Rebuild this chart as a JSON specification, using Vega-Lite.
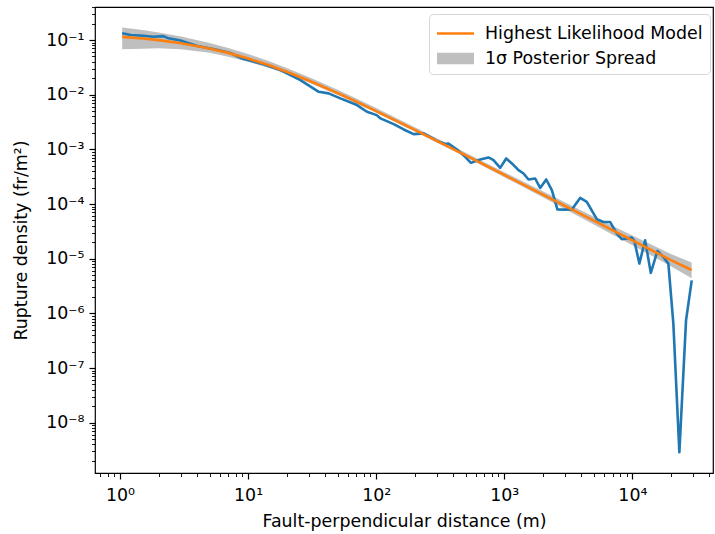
{
  "$schema": "https://vega.github.io/schema/vega-lite/v6.json",
  "width": 618,
  "height": 466,
  "autosize": {"type": "none"},
  "padding": {"left": 95, "right": 2, "top": 7, "bottom": 61},
  "background": "white",
  "config": {
    "view": {"stroke": "black", "strokeWidth": 1.2},
    "font": "DejaVu Sans"
  },
  "datasets": {
    "blue": [
      {"x": 1.04, "y": 0.1327}, {"x": 1.21, "y": 0.1235}, {"x": 1.52, "y": 0.12}, {"x": 1.82, "y": 0.1148},
      {"x": 2.18, "y": 0.118}, {"x": 2.39, "y": 0.1074}, {"x": 2.96, "y": 0.098}, {"x": 4.02, "y": 0.0777},
      {"x": 5.56, "y": 0.067}, {"x": 7.28, "y": 0.0578}, {"x": 9.0, "y": 0.046}, {"x": 12.5, "y": 0.0374},
      {"x": 17.9, "y": 0.0283}, {"x": 25.6, "y": 0.0185}, {"x": 35.6, "y": 0.0113}, {"x": 42.5, "y": 0.01056},
      {"x": 52.5, "y": 0.00855}, {"x": 70.8, "y": 0.00646}, {"x": 84.7, "y": 0.00487}, {"x": 101, "y": 0.00423},
      {"x": 108, "y": 0.00368}, {"x": 137, "y": 0.0029}, {"x": 164, "y": 0.00231}, {"x": 196, "y": 0.0019},
      {"x": 234, "y": 0.00195}, {"x": 256, "y": 0.00175}, {"x": 298, "y": 0.00143}, {"x": 346, "y": 0.00125},
      {"x": 367, "y": 0.00128}, {"x": 427, "y": 0.000995}, {"x": 495, "y": 0.00073}, {"x": 549, "y": 0.000566},
      {"x": 649, "y": 0.000653}, {"x": 753, "y": 0.000711}, {"x": 824, "y": 0.000634}, {"x": 929, "y": 0.000458},
      {"x": 1035, "y": 0.000681}, {"x": 1146, "y": 0.000552}, {"x": 1291, "y": 0.000416}, {"x": 1413, "y": 0.000362},
      {"x": 1545, "y": 0.000281}, {"x": 1742, "y": 0.000293}, {"x": 1906, "y": 0.000197}, {"x": 2125, "y": 0.000281},
      {"x": 2352, "y": 0.000179}, {"x": 2601, "y": 0.0000793}, {"x": 2897, "y": 0.000079}, {"x": 3368, "y": 0.0000793},
      {"x": 3910, "y": 0.000129}, {"x": 4408, "y": 0.000109}, {"x": 5277, "y": 0.0000527}, {"x": 5940, "y": 0.000047},
      {"x": 6700, "y": 0.000047}, {"x": 7556, "y": 0.0000288}, {"x": 8262, "y": 0.0000227}, {"x": 9890, "y": 0.0000243},
      {"x": 10370, "y": 0.0000211}, {"x": 11340, "y": 0.00000813}, {"x": 12570, "y": 0.0000217}, {"x": 13930, "y": 0.00000547},
      {"x": 15680, "y": 0.0000138}, {"x": 17460, "y": 0.0000107}, {"x": 19100, "y": 0.00000813}, {"x": 20890, "y": 0.000000647},
      {"x": 23270, "y": 0.00000000288}, {"x": 26240, "y": 0.000000745}, {"x": 29060, "y": 0.00000402}
    ],
    "model": [
      {"x": 1.04, "y": 0.1144, "lo": 0.0677, "hi": 0.170},
      {"x": 1.5, "y": 0.1068, "lo": 0.069, "hi": 0.1526},
      {"x": 2, "y": 0.0997, "lo": 0.0706, "hi": 0.1376},
      {"x": 3, "y": 0.0876, "lo": 0.068, "hi": 0.1155},
      {"x": 5, "y": 0.0702, "lo": 0.0584, "hi": 0.0884},
      {"x": 7, "y": 0.0582, "lo": 0.0495, "hi": 0.0716},
      {"x": 10, "y": 0.046, "lo": 0.0401, "hi": 0.0553},
      {"x": 15, "y": 0.0337, "lo": 0.03, "hi": 0.0401},
      {"x": 20, "y": 0.0263, "lo": 0.024, "hi": 0.0309},
      {"x": 30, "y": 0.018, "lo": 0.01653, "hi": 0.0209},
      {"x": 50, "y": 0.01069, "lo": 0.00987, "hi": 0.01227},
      {"x": 70, "y": 0.00745, "lo": 0.00692, "hi": 0.00849},
      {"x": 100, "y": 0.00501, "lo": 0.00467, "hi": 0.00569},
      {"x": 200, "y": 0.00227, "lo": 0.002118, "hi": 0.002547},
      {"x": 500, "y": 0.000774, "lo": 0.000722, "hi": 0.000868},
      {"x": 1000, "y": 0.00034, "lo": 0.00031, "hi": 0.000381},
      {"x": 2000, "y": 0.0001485, "lo": 0.0001323, "hi": 0.0001705},
      {"x": 5000, "y": 0.0000496, "lo": 0.0000422, "hi": 0.0000583},
      {"x": 10000, "y": 0.0000216, "lo": 0.00001756, "hi": 0.0000266},
      {"x": 20000, "y": 0.00000941, "lo": 0.0000073, "hi": 0.00001212},
      {"x": 29000, "y": 0.0000062, "lo": 0.0000044, "hi": 0.0000085}
    ]
  },
  "encoding": {
    "x": {
      "type": "quantitative",
      "scale": {"type": "log", "domain": [0.638, 42600], "nice": false},
      "axis": {
        "title": "Fault-perpendicular distance (m)",
        "values": [0.7, 0.8, 0.9, 1, 2, 3, 4, 5, 6, 7, 8, 9, 10, 20, 30, 40, 50, 60, 70, 80, 90, 100, 200, 300, 400, 500, 600, 700, 800, 900, 1000, 2000, 3000, 4000, 5000, 6000, 7000, 8000, 9000, 10000, 20000, 30000, 40000],
        "labelExpr": "datum.value == 1 ? '10⁰' : datum.value == 10 ? '10¹' : datum.value == 100 ? '10²' : datum.value == 1000 ? '10³' : datum.value == 10000 ? '10⁴' : ''",
        "labelOverlap": false, "labelFlush": false, "labelBound": false,
        "domain": false, "grid": false,
        "tickColor": "black",
        "tickSize": {"condition": {"test": "abs(log(datum.value)/LN10 - round(log(datum.value)/LN10)) < 0.000001", "value": 6}, "value": 3.5},
        "tickWidth": {"condition": {"test": "abs(log(datum.value)/LN10 - round(log(datum.value)/LN10)) < 0.000001", "value": 1.2}, "value": 0.9},
        "labelFont": "DejaVu Sans", "labelFontSize": 17.4, "labelColor": "black", "labelPadding": 7,
        "titleFont": "DejaVu Sans", "titleFontSize": 17.4, "titleFontWeight": "normal", "titleColor": "black", "titlePadding": 9
      }
    }
  },
  "layer": [
    {
      "data": {"name": "model"},
      "mark": {"type": "area", "opacity": 1},
      "encoding": {
        "x": {"field": "x", "type": "quantitative"},
        "y": {"field": "lo", "type": "quantitative"},
        "y2": {"field": "hi"},
        "color": {"datum": "1σ Posterior Spread"}
      }
    },
    {
      "data": {"name": "blue"},
      "mark": {"type": "line", "color": "#1f77b4", "strokeWidth": 2.6, "strokeJoin": "round"},
      "encoding": {
        "x": {"field": "x", "type": "quantitative"},
        "y": {"field": "y", "type": "quantitative"}
      }
    },
    {
      "data": {"name": "model"},
      "mark": {"type": "line", "strokeWidth": 2.6},
      "encoding": {
        "x": {"field": "x", "type": "quantitative"},
        "y": {
          "field": "y", "type": "quantitative",
          "scale": {"type": "log", "domain": [1.2e-9, 0.402], "nice": false},
          "axis": {
            "title": "Rupture density (fr/m²)",
            "values": [2e-9, 3e-9, 4e-9, 5e-9, 6e-9, 7e-9, 8e-9, 9e-9, 1e-8, 2e-8, 3e-8, 4e-8, 5e-8, 6e-8, 7e-8, 8e-8, 9e-8, 1e-7, 2e-7, 3e-7, 4e-7, 5e-7, 6e-7, 7e-7, 8e-7, 9e-7, 0.000001, 0.000002, 0.000003, 0.000004, 0.000005, 0.000006, 0.000007, 0.000008, 0.000009, 0.00001, 0.00002, 0.00003, 0.00004, 0.00005, 0.00006, 0.00007, 0.00008, 0.00009, 0.0001, 0.0002, 0.0003, 0.0004, 0.0005, 0.0006, 0.0007, 0.0008, 0.0009, 0.001, 0.002, 0.003, 0.004, 0.005, 0.006, 0.007, 0.008, 0.009, 0.01, 0.02, 0.03, 0.04, 0.05, 0.06, 0.07, 0.08, 0.09, 0.1, 0.2, 0.3, 0.4],
            "labelExpr": "datum.value == 0.1 ? '10⁻¹' : datum.value == 0.01 ? '10⁻²' : datum.value == 0.001 ? '10⁻³' : datum.value == 0.0001 ? '10⁻⁴' : datum.value == 0.00001 ? '10⁻⁵' : datum.value == 0.000001 ? '10⁻⁶' : datum.value == 0.0000001 ? '10⁻⁷' : datum.value == 0.00000001 ? '10⁻⁸' : ''",
            "labelOverlap": false, "labelFlush": false, "labelBound": false,
            "domain": false, "grid": false,
            "tickColor": "black",
            "tickSize": {"condition": {"test": "abs(log(datum.value)/LN10 - round(log(datum.value)/LN10)) < 0.000001", "value": 6}, "value": 3.5},
            "tickWidth": {"condition": {"test": "abs(log(datum.value)/LN10 - round(log(datum.value)/LN10)) < 0.000001", "value": 1.2}, "value": 0.9},
            "labelFont": "DejaVu Sans", "labelFontSize": 17.4, "labelColor": "black", "labelPadding": 5,
            "titleFont": "DejaVu Sans", "titleFontSize": 17.4, "titleFontWeight": "normal", "titleColor": "black", "titlePadding": 15
          }
        },
        "color": {
          "datum": "Highest Likelihood Model",
          "scale": {"domain": ["Highest Likelihood Model", "1σ Posterior Spread"], "range": ["#ff7f0e", "#bfbfbf"]},
          "legend": {
            "title": null,
            "orient": "none", "legendX": 334, "legendY": 7,
            "labelFont": "DejaVu Sans", "labelFontSize": 17.4, "labelColor": "black", "labelLimit": 400,
            "strokeColor": "#d6d6d6", "fillColor": "rgba(255,255,255,0.8)", "cornerRadius": 4, "padding": 7,
            "symbolSize": 625, "symbolOffset": 7, "labelOffset": 17, "rowPadding": 4,
            "symbolStrokeWidth": 0,
            "encode": {
              "symbols": {
                "update": {
                  "shape": {"signal": "datum.value == 'Highest Likelihood Model' ? 'M-1.48,-0.1H1.48V0.1H-1.48Z' : 'M-1.48,-0.46H1.48V0.46H-1.48Z'"},
                  "fill": {"signal": "scale('color', datum.value)"},
                  "stroke": {"value": "transparent"},
                  "opacity": {"value": 1}
                }
              }
            }
          }
        }
      }
    }
  ]
}
